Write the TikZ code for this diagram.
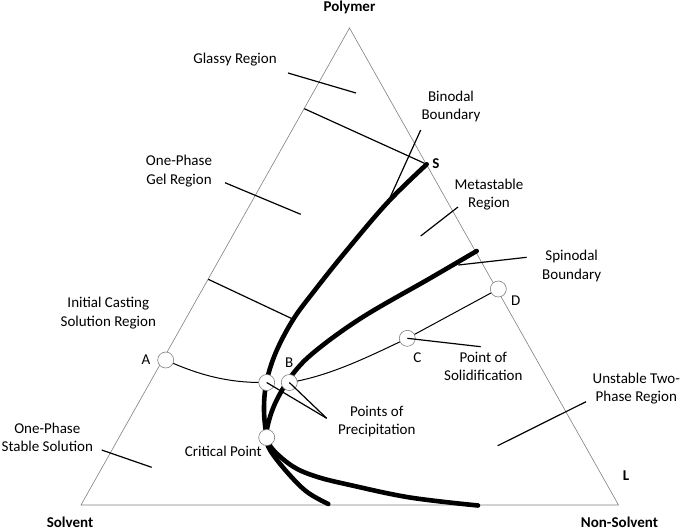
\documentclass[tikz,border=0pt]{standalone}
\usepackage{fontspec}
\setmainfont{Carlito}
\usetikzlibrary{positioning}

\begin{document}
\begin{tikzpicture}[x=1pt, y=-1pt,
  lbl/.style={align=center, font=\fontsize{15}{18.5}\selectfont, inner sep=0pt},
  corner/.style={font=\fontsize{15}{18}\selectfont\bfseries, inner sep=0pt},
  triside/.style={gray, line width=0.6pt},
  leader/.style={line width=1.2pt},
  route/.style={line width=1pt},
  boundary/.style={line width=4.6pt, line cap=round},
  pt/.style={circle, draw=gray, fill=white, line width=0.6pt, minimum size=16pt, inner sep=0pt}]
  \useasboundingbox (0,0) rectangle (685,531);

  % Triangle corners
  \coordinate (top) at (349.5,28);
  \coordinate (sv) at (81,505);
  \coordinate (ns) at (618.5,505);
  \draw[triside] (top) -- (sv) -- (ns) -- cycle;
  \node[corner] (polymer) at (349.5,7.5) {Polymer};
  \node[corner] (solvent) at (70,522.5) {Solvent};
  \node[corner] (nonsolvent) at (619.5,522.5) {Non-Solvent};

  % Composition points
  \coordinate (s_pt) at (426.7,164.3);
  \coordinate (a_pt) at (165.7,360);
  \coordinate (p_pt) at (266.7,382.5);
  \coordinate (b_pt) at (289.3,382.5);
  \coordinate (c_pt) at (407.3,338.3);
  \coordinate (d_pt) at (498.3,289);
  \coordinate (crit_pt) at (266.7,437.5);

  % Tie lines
  \coordinate (tie1) at (304.3,108.7);
  \coordinate (tie2) at (208.3,279.3);
  \coordinate (tie2_end) at (293.3,319.3);
  \draw[leader] (tie1) -- (s_pt);
  \draw[leader] (tie2) -- (tie2_end);

  % Binodal and spinodal boundaries
  \draw[boundary] plot[smooth, tension=0.6] coordinates {(426.7,164.3) (388,202) (347,250) (315,290) (293.3,319.3) (276,352) (266.5,382) (264,410) (266.7,437.5) (270,450) (286.7,471.7) (306.7,491.7) (328.3,504)};
  \draw[boundary] plot[smooth, tension=0.6] coordinates {(476.7,251) (430,278.3) (363.3,316.7) (316.7,350) (293.3,373.3) (276.7,400) (268.3,423) (267,437.5) (273.3,450) (293.3,466.7) (316.7,476.7) (350,485) (410,497.5) (478,505.5)};

  % Casting path A -> B -> C -> D
  \draw[route] (a_pt) .. controls (205,378) and (235,383) .. (p_pt);
  \draw[route] (b_pt) .. controls (330,376) and (370,356) .. (c_pt);
  \draw[route] (c_pt) -- (d_pt);

  % Circles at the points
  \node[pt] (a_node) at (a_pt) {};
  \node[pt] (p_node) at (p_pt) {};
  \node[pt] (b_node) at (b_pt) {};
  \node[pt] (c_node) at (c_pt) {};
  \node[pt] (d_node) at (d_pt) {};
  \node[pt] (crit_node) at (crit_pt) {};

  % Point letters
  \node[corner] (s_lbl) at (436,164) {S};
  \node[corner] (l_lbl) at (626,475.7) {L};
  \node[lbl] (a_lbl) at (146,360) {A};
  \node[lbl] (b_lbl) at (289.3,362.7) {B};
  \node[lbl] (c_lbl) at (417.3,357.3) {C};
  \node[lbl] (d_lbl) at (515.7,300.7) {D};

  % Region labels
  \node[lbl] (glassy) at (235,60) {Glassy Region};
  \node[lbl] (binodal) at (451,106.5) {Binodal\\Boundary};
  \node[lbl] (gel) at (179,171) {One-Phase\\Gel Region};
  \node[lbl] (meta) at (489,194.5) {Metastable\\Region};
  \node[lbl] (spinodal) at (571.7,266) {Spinodal\\Boundary};
  \node[lbl] (casting) at (108.3,313.3) {Initial Casting\\Solution Region};
  \node[lbl] (solid) at (483.3,366.5) {Point of\\Solidification};
  \node[lbl] (precip) at (376.7,421.5) {Points of\\Precipitation};
  \node[lbl] (critical) at (223.3,451.7) {Critical Point};
  \node[lbl] (stable) at (47.3,437.5) {One-Phase\\Stable Solution};
  \node[lbl] (unstable) at (636.3,388.5) {Unstable Two-\\Phase Region};

  % Leader lines
  \draw[leader] (288,73) coordinate (glassy_a) -- (356,93) coordinate (glassy_b);
  \draw[leader] (420.7,130) coordinate (binodal_a) -- (388,202) coordinate (binodal_b);
  \draw[leader] (225,182.7) coordinate (gel_a) -- (300.7,214.3) coordinate (gel_b);
  \draw[leader] (458,207) coordinate (meta_a) -- (420.7,236) coordinate (meta_b);
  \draw[leader] (526.7,257.3) coordinate (spin_a) -- (458.3,265) coordinate (spin_b);
  \draw[leader] (c_pt) -- (480.7,346.7) coordinate (solid_a);
  \coordinate (precip_a) at (326.7,418.3);
  \draw[leader] (precip_a) -- (p_pt);
  \draw[leader] (precip_a) -- (b_pt);
  \draw[leader] (101.7,450) coordinate (stable_a) -- (151.7,467.3) coordinate (stable_b);
  \draw[leader] (586,401.7) coordinate (unst_a) -- (497.7,445.7) coordinate (unst_b);
\end{tikzpicture}
\end{document}
